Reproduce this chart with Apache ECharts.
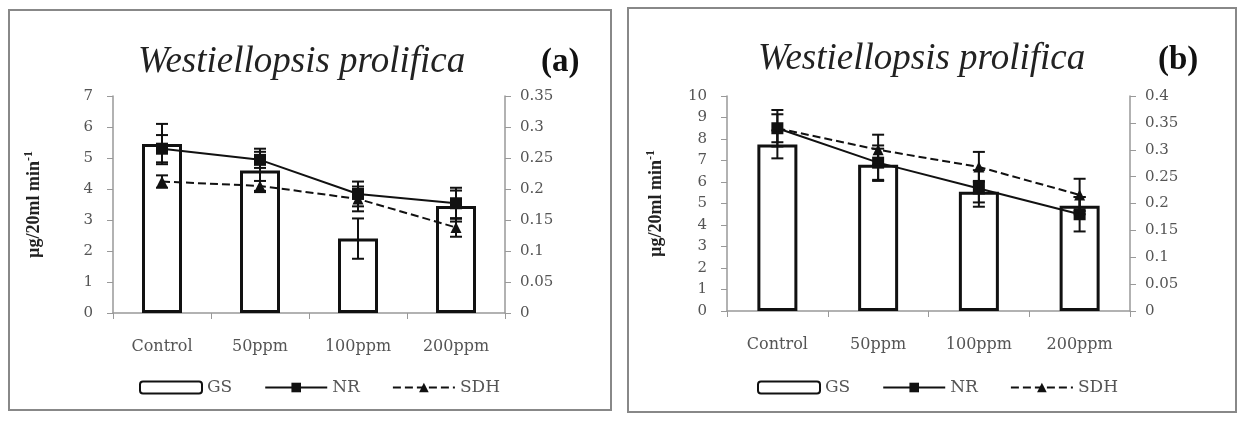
<!DOCTYPE html>
<html><head><meta charset="utf-8">
<script src="https://cdn.jsdelivr.net/npm/echarts@6/dist/echarts.min.js"></script>
<style>html,body{margin:0;padding:0;background:#fff}#c{width:1243px;height:421px}</style>
</head><body><div id="c"></div>
<script>
const categories = ['Control', '50ppm', '100ppm', '200ppm'];
// Panel (a)
const gsA = [5.45, 4.6, 2.4, 3.45];
const gsAErr = [0.65, 0.7, 0.65, 0.5];
const nrA = [0.265, 0.247, 0.192, 0.177];
const nrAErr = [0.022, 0.013, 0.02, 0.025];
const sdhA = [0.212, 0.205, 0.184, 0.138];
const sdhAErr = [0.01, 0.008, 0.02, 0.015];
// Panel (b)
const gsB = [7.75, 6.8, 5.55, 4.9];
const gsBErr = [0.65, 0.75, 0.5, 0.4];
const nrB = [0.34, 0.276, 0.228, 0.18];
const nrBErr = [0.034, 0.032, 0.034, 0.032];
const sdhB = [0.34, 0.3, 0.268, 0.216];
const sdhBErr = [0.026, 0.028, 0.028, 0.03];
const leftTicksA = {min: 0, max: 7, interval: 1};
const rightTicksA = {min: 0, max: 0.35, interval: 0.05};
const leftTicksB = {min: 0, max: 10, interval: 1};
const rightTicksB = {min: 0, max: 0.4, interval: 0.05};

const serif = 'Liberation Serif';
const wideSerif = 'DejaVu Serif';
const grey = '#999';
const labelColor = '#555';

function errSeries(vals, errs, xi, yi) {
  return {
    type: 'custom', xAxisIndex: xi, yAxisIndex: yi, z: 10, silent: true,
    data: vals.map((v, i) => [i, v - errs[i], v + errs[i]]),
    renderItem: function (params, api) {
      const lo = api.coord([api.value(0), api.value(1)]);
      const hi = api.coord([api.value(0), api.value(2)]);
      const w = 6;
      const st = {stroke: '#111', lineWidth: 2};
      return {type: 'group', children: [
        {type: 'line', shape: {x1: lo[0], y1: lo[1], x2: hi[0], y2: hi[1]}, style: st},
        {type: 'line', shape: {x1: lo[0] - w, y1: lo[1], x2: lo[0] + w, y2: lo[1]}, style: st},
        {type: 'line', shape: {x1: hi[0] - w, y1: hi[1], x2: hi[0] + w, y2: hi[1]}, style: st}
      ]};
    }
  };
}

function xAxis(gi) {
  return {
    type: 'category', gridIndex: gi, data: categories, boundaryGap: true,
    axisLine: {lineStyle: {color: grey, width: 1.5}},
    axisTick: {show: true, length: 6, lineStyle: {color: grey}},
    axisLabel: {color: labelColor, fontFamily: wideSerif, fontSize: 16, margin: 26}
  };
}
function yAxis(gi, t, pos, name, gap) {
  const o = {
    type: 'value', gridIndex: gi, position: pos, min: t.min, max: t.max, interval: t.interval,
    splitLine: {show: false},
    axisLine: {show: true, lineStyle: {color: grey, width: 1.5}},
    axisTick: {show: true, length: 6, lineStyle: {color: grey}},
    axisLabel: {color: labelColor, fontFamily: wideSerif, fontSize: 15, margin: pos === 'left' ? 20 : 15}
  };
  if (name) {
    o.name = '{a|µg/20ml min}{s|-1}';
    o.nameLocation = 'middle';
    o.nameRotate = 90;
    o.nameGap = gap;
    o.nameTextStyle = {rich: {
      a: {fontFamily: serif, fontSize: 18, fontWeight: 'bold', color: '#222'},
      s: {fontFamily: serif, fontSize: 12, fontWeight: 'bold', color: '#222', verticalAlign: 'top', padding: [0, 0, 10, 0]}
    }};
  }
  return o;
}

const barStyle = {color: '#fff', borderColor: '#111', borderWidth: 3};
function panelSeries(gi, gs, gsErr, nr, nrErr, sdh, sdhErr) {
  const xi = gi, yl = gi * 2, yr = gi * 2 + 1;
  return [
    {name: 'GS', type: 'bar', xAxisIndex: xi, yAxisIndex: yl, data: gs, barWidth: 40, itemStyle: barStyle, z: 2},
    {name: 'NR', type: 'line', xAxisIndex: xi, yAxisIndex: yr, data: nr, symbol: 'rect', symbolSize: 12,
      itemStyle: {color: '#111'}, lineStyle: {color: '#111', width: 2}, z: 5},
    {name: 'SDH', type: 'line', xAxisIndex: xi, yAxisIndex: yr, data: sdh, symbol: 'triangle', symbolSize: 11,
      itemStyle: {color: '#111'}, lineStyle: {color: '#111', width: 2, type: 'dashed'}, z: 4},
    errSeries(gs, gsErr, xi, yl),
    errSeries(nr, nrErr, xi, yr),
    errSeries(sdh, sdhErr, xi, yr)
  ];
}

const legendCommon = {
  data: ['GS', 'NR', 'SDH'], itemWidth: 62, itemHeight: 12, itemGap: 32,
  textStyle: {fontFamily: wideSerif, fontSize: 17, color: labelColor}, selectedMode: false
};

const option = {
  animation: false,
  grid: [
    {left: 113, top: 96, width: 392, height: 217},
    {left: 727, top: 96, width: 403, height: 215}
  ],
  xAxis: [xAxis(0), xAxis(1)],
  yAxis: [
    yAxis(0, leftTicksA, 'left', true, 68),
    yAxis(0, rightTicksA, 'right', false),
    yAxis(1, leftTicksB, 'left', true, 60),
    yAxis(1, rightTicksB, 'right', false)
  ],
  legend: [
    Object.assign({left: 134, top: 374}, legendCommon),
    Object.assign({left: 752, top: 374}, legendCommon)
  ],
  series: [].concat(
    panelSeries(0, gsA, gsAErr, nrA, nrAErr, sdhA, sdhAErr),
    panelSeries(1, gsB, gsBErr, nrB, nrBErr, sdhB, sdhBErr)
  ),
  graphic: [
    {type: 'rect', shape: {x: 9, y: 10, width: 602, height: 400}, style: {fill: 'none', stroke: '#888', lineWidth: 2}, silent: true},
    {type: 'rect', shape: {x: 628, y: 8, width: 608, height: 404}, style: {fill: 'none', stroke: '#888', lineWidth: 2}, silent: true},
    {type: 'text', left: 138, top: 44, style: {text: 'Westiellopsis prolifica', font: 'italic 37px "Liberation Serif"', fill: '#222'}},
    {type: 'text', left: 541, top: 46, style: {text: '(a)', font: 'bold 33px "Liberation Serif"', fill: '#111'}},
    {type: 'text', left: 758, top: 41, style: {text: 'Westiellopsis prolifica', font: 'italic 37px "Liberation Serif"', fill: '#222'}},
    {type: 'text', left: 1158, top: 44, style: {text: '(b)', font: 'bold 33px "Liberation Serif"', fill: '#111'}}
  ]
};
echarts.init(document.getElementById('c')).setOption(option);
</script></body></html>
